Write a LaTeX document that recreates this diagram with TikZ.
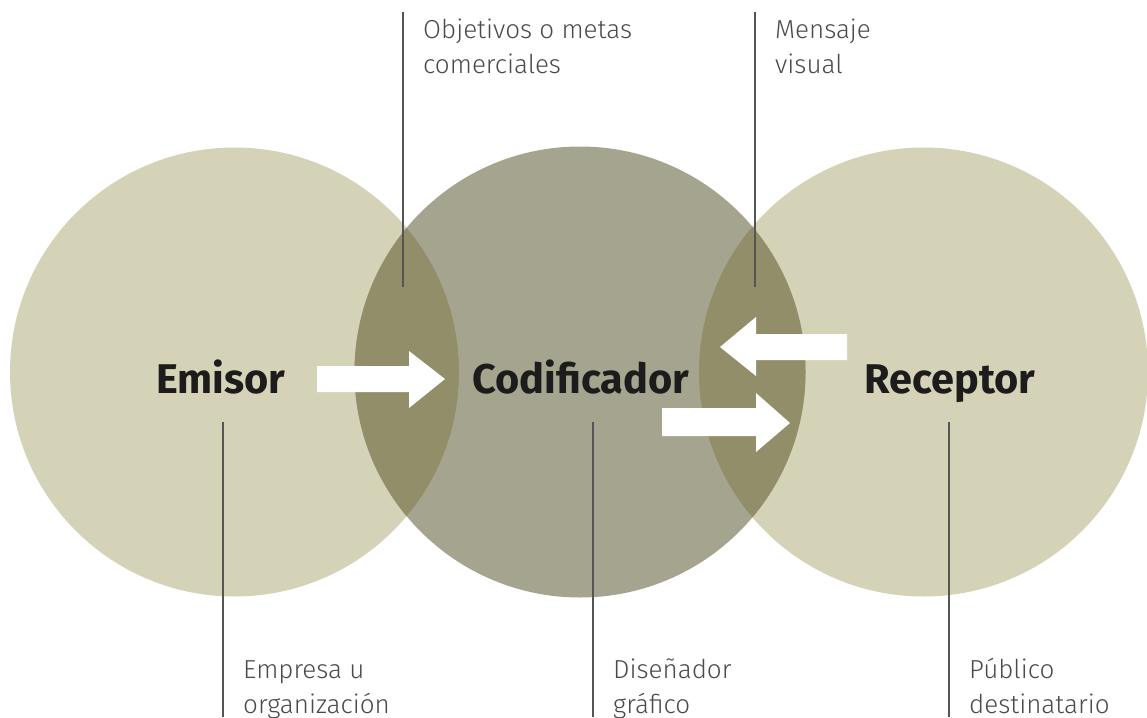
\documentclass[tikz,border=0pt]{standalone}
\usepackage{fontspec}
\setmainfont{Fira Sans}
\newfontfamily\lightf{Fira Sans Light}
\begin{document}
\begin{tikzpicture}[x=1pt,y=-1pt,
  lightcirc/.style={circle,fill=lightol,minimum size=449pt,inner sep=0pt},
  midcirc/.style={circle,fill=midgray,minimum size=451pt,inner sep=0pt},
  bigword/.style={font=\fontsize{41.5}{44}\selectfont\bfseries,text=wordcol,inner sep=0pt,anchor=base},
  smalltext/.style={font=\lightf\fontsize{26}{35}\selectfont,text=textcol,inner sep=0pt,align=left,anchor=base west},
  guide/.style={draw=linecol,line width=1.3pt},
  arrowfill/.style={fill=white}
]
\definecolor{lightol}{HTML}{D5D3B7}
\definecolor{midgray}{HTML}{A5A48F}
\definecolor{overlap}{HTML}{938E6A}
\definecolor{wordcol}{HTML}{1C1C1C}
\definecolor{textcol}{HTML}{4A4A4A}
\definecolor{linecol}{HTML}{555555}
\useasboundingbox (0,0) rectangle (1147,717);

\node[lightcirc] (cl) at (234.5,372) {};
\node[lightcirc] (cr) at (923.5,372) {};
\node[midcirc] (cm) at (580,372) {};
\begin{scope}
  \clip (234.5,372) circle (224.5);
  \fill[overlap] (580,372) circle (225.5);
\end{scope}
\begin{scope}
  \clip (923.5,372) circle (224.5);
  \fill[overlap] (580,372) circle (225.5);
\end{scope}

% arrows
\fill[arrowfill] (317,366) -- (409,366) -- (409,351) -- (445,379) -- (409,408) -- (409,392) -- (317,392) -- cycle;
\fill[arrowfill] (847,334) -- (756,334) -- (756,317) -- (720,347) -- (756,376) -- (756,360) -- (847,360) -- cycle;
\fill[arrowfill] (662,408) -- (756,408) -- (756,393) -- (790,423) -- (756,452) -- (756,436) -- (662,436) -- cycle;

% labels
\node[bigword] (em) at (221,393) {Emisor};
\node[bigword] (co) at (581,393) {Codificador};
\node[bigword] (re) at (950,393) {Receptor};

% guide lines
\coordinate (t1) at (403,12); \coordinate (b1) at (403,287);
\coordinate (t2) at (755,12); \coordinate (b2) at (755,287);
\coordinate (t3) at (223,422); \coordinate (b3) at (223,717);
\coordinate (t4) at (593,422); \coordinate (b4) at (593,717);
\coordinate (t5) at (949,422); \coordinate (b5) at (949,717);
\draw[guide] (t1) -- (b1);
\draw[guide] (t2) -- (b2);
\draw[guide] (t3) -- (b3);
\draw[guide] (t4) -- (b4);
\draw[guide] (t5) -- (b5);

\node[smalltext] (obj) at (423,74) {Objetivos o metas\\comerciales};
\node[smalltext] (men) at (775,74) {Mensaje\\visual};
\node[smalltext] (emp) at (243,713) {Empresa u\\organización};
\node[smalltext] (dis) at (613,713) {Diseñador\\gráfico};
\node[smalltext] (pub) at (969,713) {Público\\destinatario};
\end{tikzpicture}
\end{document}
